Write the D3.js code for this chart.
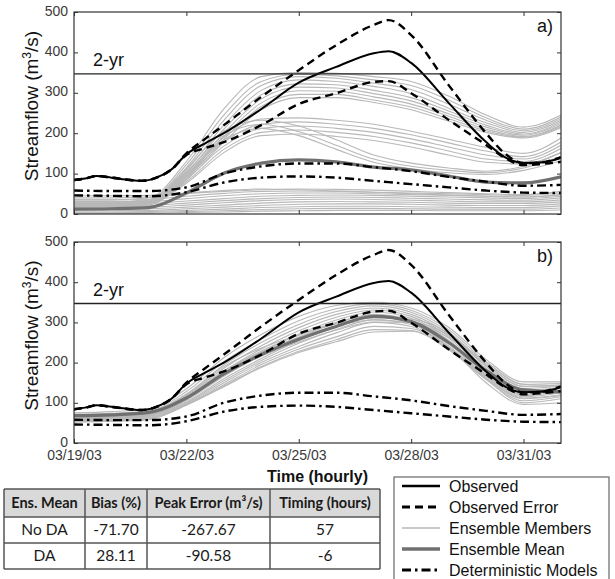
<!DOCTYPE html>
<html lang="en">
<head>
<meta charset="UTF-8">
<title>Streamflow ensemble forecasts</title>
<script src="https://d3js.org/d3.v7.min.js"></script>
<style>
    html, body { margin: 0; padding: 0; background: #fff; }
    svg { display: block; font-family: 'Liberation Sans', Arial, sans-serif; }
</style>
</head>
<body>
<svg id="chart" width="615" height="579"></svg>
<script>
    // time is in days since 03/19/03 00:00
    const days = [0, 1, 2, 3, 4, 5, 6, 7, 8, 9, 10, 11, 12, 13];
    const obsDays = [0, 0.3, 0.6, 1, 1.5, 1.8, 2.2, 2.6, 3, 3.5, 4, 5, 6, 7, 8, 8.4, 9, 10, 11, 11.5, 12, 12.5, 13];
    const observed   = [84, 88, 94, 90, 84, 82, 90, 110, 148, 175, 200, 260, 325, 364, 398, 403, 374, 275, 178, 141, 126, 128, 139];
    const obsErrHigh = [84, 88, 94, 90, 84, 82, 90, 110, 150, 186, 220, 290, 356, 418, 468, 480, 443, 319, 200, 150, 126, 128, 141];
    const obsErrLow  = [84, 88, 94, 90, 84, 82, 90, 110, 146, 163, 178, 220, 272, 299, 327, 329, 299, 233, 171, 139, 121, 124, 129];

    const detModel1 = [58, 57, 57, 66, 100, 118, 125, 125, 116, 106, 92, 80, 70, 72];
    const detModel2 = [46, 45, 44, 54, 78, 90, 93, 90, 82, 74, 66, 58, 53, 52];

    const meanNoDA = [12, 13, 16, 52, 101, 126, 134, 129, 116, 109, 94, 79, 77, 92];
    const meanDA   = [68, 70, 76, 112, 172, 220, 258, 290, 315, 302, 250, 180, 132, 127];

    // ensemble members without data assimilation (panel a)
    const membersNoDA = [
        [35, 35, 40, 130, 260, 340, 350, 348, 340, 328, 292, 245, 215, 245],
        [30, 30, 36, 122, 245, 328, 346, 342, 332, 318, 282, 238, 210, 240],
        [28, 28, 34, 115, 232, 318, 340, 336, 324, 308, 272, 232, 206, 236],
        [25, 26, 32, 108, 220, 306, 332, 328, 316, 298, 262, 226, 202, 232],
        [22, 24, 30, 102, 210, 295, 322, 320, 306, 288, 255, 220, 198, 228],
        [20, 22, 28, 96, 200, 285, 314, 312, 298, 280, 248, 215, 195, 224],
        [18, 20, 26, 92, 192, 275, 305, 304, 290, 272, 242, 210, 192, 220],
        [16, 18, 24, 88, 185, 266, 296, 296, 282, 265, 236, 206, 190, 217],
        [15, 16, 22, 84, 178, 258, 288, 288, 276, 258, 230, 202, 188, 214],
        [30, 30, 32, 100, 190, 235, 238, 232, 222, 205, 185, 165, 150, 188],
        [26, 26, 30, 92, 178, 222, 228, 222, 212, 196, 176, 156, 142, 178],
        [22, 23, 28, 86, 168, 212, 218, 212, 202, 186, 166, 146, 136, 170],
        [20, 20, 26, 80, 160, 202, 208, 202, 192, 176, 156, 136, 130, 162],
        [18, 18, 24, 76, 152, 194, 198, 192, 182, 166, 146, 128, 124, 152],
        [25, 25, 30, 112, 205, 232, 218, 184, 146, 126, 114, 106, 118, 152],
        [22, 22, 28, 104, 194, 222, 204, 170, 136, 118, 108, 102, 114, 142],
        [20, 20, 26, 96, 184, 212, 194, 160, 128, 112, 102, 98, 108, 132],
        [45, 45, 46, 52, 58, 62, 60, 57, 54, 50, 47, 44, 42, 47],
        [40, 40, 42, 50, 56, 60, 62, 61, 59, 56, 53, 50, 48, 56],
        [35, 35, 36, 44, 51, 56, 57, 56, 54, 52, 50, 48, 46, 52],
        [30, 30, 31, 38, 45, 50, 52, 52, 50, 48, 46, 44, 42, 48],
        [25, 25, 26, 32, 38, 44, 46, 47, 46, 44, 42, 40, 38, 44],
        [20, 20, 21, 27, 33, 38, 41, 42, 41, 39, 37, 35, 34, 40],
        [16, 16, 17, 22, 28, 33, 36, 37, 36, 34, 32, 30, 30, 35],
        [12, 12, 13, 17, 22, 27, 30, 31, 30, 29, 27, 26, 26, 30],
        [8, 8, 9, 13, 17, 21, 24, 25, 25, 24, 22, 21, 21, 25],
        [5, 5, 6, 9, 12, 16, 18, 19, 19, 18, 17, 16, 16, 20],
        [3, 3, 4, 6, 8, 11, 13, 14, 14, 13, 12, 12, 12, 15],
        [2, 2, 2, 4, 5, 7, 8, 9, 9, 9, 8, 8, 8, 10]
    ];

    // ensemble members with data assimilation (panel b)
    const membersDA = [
        [75, 78, 85, 135, 212, 270, 315, 342, 350, 336, 288, 208, 152, 152],
        [72, 74, 80, 128, 202, 258, 304, 334, 346, 330, 282, 202, 146, 148],
        [70, 72, 78, 122, 194, 250, 295, 327, 341, 325, 276, 196, 141, 145],
        [68, 70, 76, 118, 186, 242, 287, 320, 336, 320, 271, 191, 136, 141],
        [66, 68, 74, 114, 179, 234, 279, 313, 331, 315, 266, 186, 131, 138],
        [64, 66, 72, 110, 172, 226, 271, 306, 326, 310, 261, 181, 126, 135],
        [62, 64, 70, 106, 166, 218, 263, 298, 320, 305, 256, 176, 121, 132],
        [60, 62, 68, 102, 160, 210, 255, 290, 314, 300, 251, 171, 118, 129],
        [58, 60, 66, 100, 155, 205, 248, 282, 307, 295, 246, 168, 115, 125],
        [56, 58, 64, 98, 150, 200, 240, 274, 300, 290, 241, 165, 112, 120],
        [55, 56, 62, 96, 145, 195, 234, 264, 290, 285, 238, 162, 110, 118],
        [54, 55, 60, 95, 142, 190, 228, 257, 282, 280, 235, 160, 105, 115],
        [52, 54, 58, 94, 140, 188, 225, 252, 276, 278, 232, 158, 100, 110],
        [60, 62, 70, 115, 180, 226, 263, 291, 306, 299, 263, 196, 141, 141],
        [58, 60, 68, 108, 170, 216, 251, 281, 301, 300, 269, 201, 146, 143],
        [65, 66, 72, 120, 190, 236, 269, 296, 311, 308, 273, 191, 129, 126],
        [62, 64, 70, 112, 176, 229, 268, 300, 318, 300, 240, 150, 96, 100]
    ];

    const twoYear = 347;
    const yTicks = [0, 100, 200, 300, 400, 500];
    const dateTicks = [0, 3, 6, 9, 12];
    const dateLabels = ["03/19/03", "03/22/03", "03/25/03", "03/28/03", "03/31/03"];

    const tableHeader = ["Ens. Mean", "Bias (%)", "Peak Error (m\u00b3/s)", "Timing (hours)"];
    const tableRows = [
        ["No DA", "-71.70", "-267.67", "57"],
        ["DA", "28.11", "-90.58", "-6"]
    ];
    const legendLabels = ["Observed", "Observed Error", "Ensemble Members", "Ensemble Mean", "Deterministic Models"];

    const svg = d3.select("#chart");
    const left = 74, right = 561;
    const x = d3.scaleLinear().domain([0, 13]).range([left, right]);

    const styles = {
        observed: {stroke: "#000", width: 2, dash: null},
        error: {stroke: "#000", width: 2.4, dash: "8,5"},
        member: {stroke: "#b8b8b8", width: 1.1, dash: null},
        mean: {stroke: "#707070", width: 3.2, dash: null},
        det: {stroke: "#000", width: 2.4, dash: "9,4,2.5,4"}
    };

    const panels = [
        {top: 12, bottom: 214, tag: "a)", members: membersNoDA, mean: meanNoDA, dates: false},
        {top: 242, bottom: 443, tag: "b)", members: membersDA, mean: meanDA, dates: true}
    ];

    panels.forEach((p, pi) => {
        const y = d3.scaleLinear().domain([0, 500]).range([p.bottom, p.top]);
        const g = svg.append("g");

        g.append("clipPath").attr("id", "clip" + pi)
            .append("rect")
            .attr("x", left).attr("y", p.top)
            .attr("width", right - left).attr("height", p.bottom - p.top);

        const lines = g.append("g").attr("clip-path", `url(#clip${pi})`);
        const line = (xs) => d3.line()
            .x((d, i) => x(xs[i]))
            .y((d) => y(d))
            .curve(d3.curveMonotoneX);

        const draw = (data, xs, st) => {
            lines.append("path")
                .attr("d", line(xs)(data))
                .attr("fill", "none")
                .attr("stroke", st.stroke)
                .attr("stroke-width", st.width)
                .attr("stroke-dasharray", st.dash);
        };

        p.members.forEach((m) => draw(m, days, styles.member));
        draw(p.mean, days, styles.mean);
        draw(detModel1, days, styles.det);
        draw(detModel2, days, styles.det);
        draw(obsErrHigh, obsDays, styles.error);
        draw(obsErrLow, obsDays, styles.error);
        draw(observed, obsDays, styles.observed);

        // 2-year flood level
        g.append("line")
            .attr("x1", left).attr("x2", right)
            .attr("y1", y(twoYear)).attr("y2", y(twoYear))
            .attr("stroke", "#222").attr("stroke-width", 1.3);
        g.append("text")
            .attr("x", 93).attr("y", y(twoYear) - 8)
            .attr("font-size", 18).attr("fill", "#111")
            .text("2-yr");

        // axes with ticks pointing inward
        const yAxis = g.append("g").attr("transform", `translate(${left},0)`)
            .call(d3.axisLeft(y).tickValues(yTicks).tickSizeInner(-4).tickSizeOuter(0).tickPadding(6));
        g.append("g").attr("transform", `translate(${right},0)`)
            .call(d3.axisRight(y).tickValues(yTicks).tickSizeInner(-4).tickSizeOuter(0).tickFormat(""));
        g.append("g").attr("transform", `translate(0,${p.top})`)
            .call(d3.axisTop(x).tickValues(dateTicks).tickSizeInner(-4).tickSizeOuter(0).tickFormat(""));
        g.append("g").attr("transform", `translate(0,${p.bottom})`)
            .call(d3.axisBottom(x).tickValues(dateTicks).tickSizeInner(-4).tickSizeOuter(0)
                .tickPadding(7)
                .tickFormat((d, i) => p.dates ? dateLabels[i] : ""));

        g.selectAll(".domain").remove();
        g.selectAll(".tick line").attr("stroke", "#333");
        g.selectAll(".tick text")
            .attr("font-family", "'Liberation Sans', Arial, sans-serif")
            .attr("font-size", 14)
            .attr("fill", "#3a3a3a");
        yAxis.selectAll(".tick text").attr("dy", "0.22em");

        g.append("rect")
            .attr("x", left).attr("y", p.top)
            .attr("width", right - left).attr("height", p.bottom - p.top)
            .attr("fill", "none").attr("stroke", "#333").attr("stroke-width", 1.2);

        g.append("text")
            .attr("x", 553).attr("y", p.top + 20)
            .attr("text-anchor", "end")
            .attr("font-size", 18).attr("fill", "#111")
            .text(p.tag);

        const yl = g.append("text")
            .attr("transform", `translate(38,${(p.top + p.bottom) / 2 - 7}) rotate(-90)`)
            .attr("text-anchor", "middle")
            .attr("font-size", 19).attr("fill", "#111");
        yl.append("tspan").text("Streamflow (m");
        yl.append("tspan").attr("font-size", 12).attr("dy", -7).text("3");
        yl.append("tspan").attr("dy", 7).text("/s)");
    });

    svg.append("text")
        .attr("x", (left + right) / 2).attr("y", 482)
        .attr("text-anchor", "middle")
        .attr("font-size", 16).attr("font-weight", "bold").attr("fill", "#111")
        .text("Time (hourly)");

    // summary table
    const colX = [4, 85, 147, 270, 380];
    const rowY = [489, 517, 543, 569];
    const table = svg.append("g").attr("font-family", "Lato, 'Open Sans', sans-serif");
    table.append("rect")
        .attr("x", colX[0]).attr("y", rowY[0])
        .attr("width", colX[4] - colX[0]).attr("height", rowY[1] - rowY[0])
        .attr("fill", "#d9d9d9");
    [tableHeader].concat(tableRows).forEach((row, r) => {
        row.forEach((cell, c) => {
            table.append("text")
                .attr("x", (colX[c] + colX[c + 1]) / 2)
                .attr("y", (rowY[r] + rowY[r + 1]) / 2 + 5)
                .attr("text-anchor", "middle")
                .attr("font-size", r === 0 ? 14.5 : 15.5)
                .attr("font-weight", r === 0 ? "bold" : "normal")
                .attr("fill", "#1a1a1a")
                .text(cell);
        });
    });
    colX.forEach((cx) => {
        table.append("line")
            .attr("x1", cx).attr("x2", cx).attr("y1", rowY[0]).attr("y2", rowY[3])
            .attr("stroke", "#555").attr("stroke-width", 1.5);
    });
    rowY.forEach((ry) => {
        table.append("line")
            .attr("x1", colX[0]).attr("x2", colX[4]).attr("y1", ry).attr("y2", ry)
            .attr("stroke", "#555").attr("stroke-width", 1.5);
    });

    // legend
    const legendStyles = [styles.observed, styles.error, styles.member, styles.mean, styles.det];
    const legend = svg.append("g");
    legend.append("rect")
        .attr("x", 394).attr("y", 477).attr("width", 215).attr("height", 110)
        .attr("fill", "#fff").attr("stroke", "#666").attr("stroke-width", 1.2);
    legendLabels.forEach((lab, i) => {
        const ly = 486 + 21 * i;
        const st = legendStyles[i];
        legend.append("line")
            .attr("x1", 402).attr("x2", 440).attr("y1", ly).attr("y2", ly)
            .attr("stroke", st.stroke)
            .attr("stroke-width", i === 2 ? 1.5 : st.width + 0.4)
            .attr("stroke-dasharray", st.dash);
        legend.append("text")
            .attr("x", 449).attr("y", ly + 6)
            .attr("font-size", 16).attr("fill", "#111")
            .text(lab);
    });
</script>
</body>
</html>
